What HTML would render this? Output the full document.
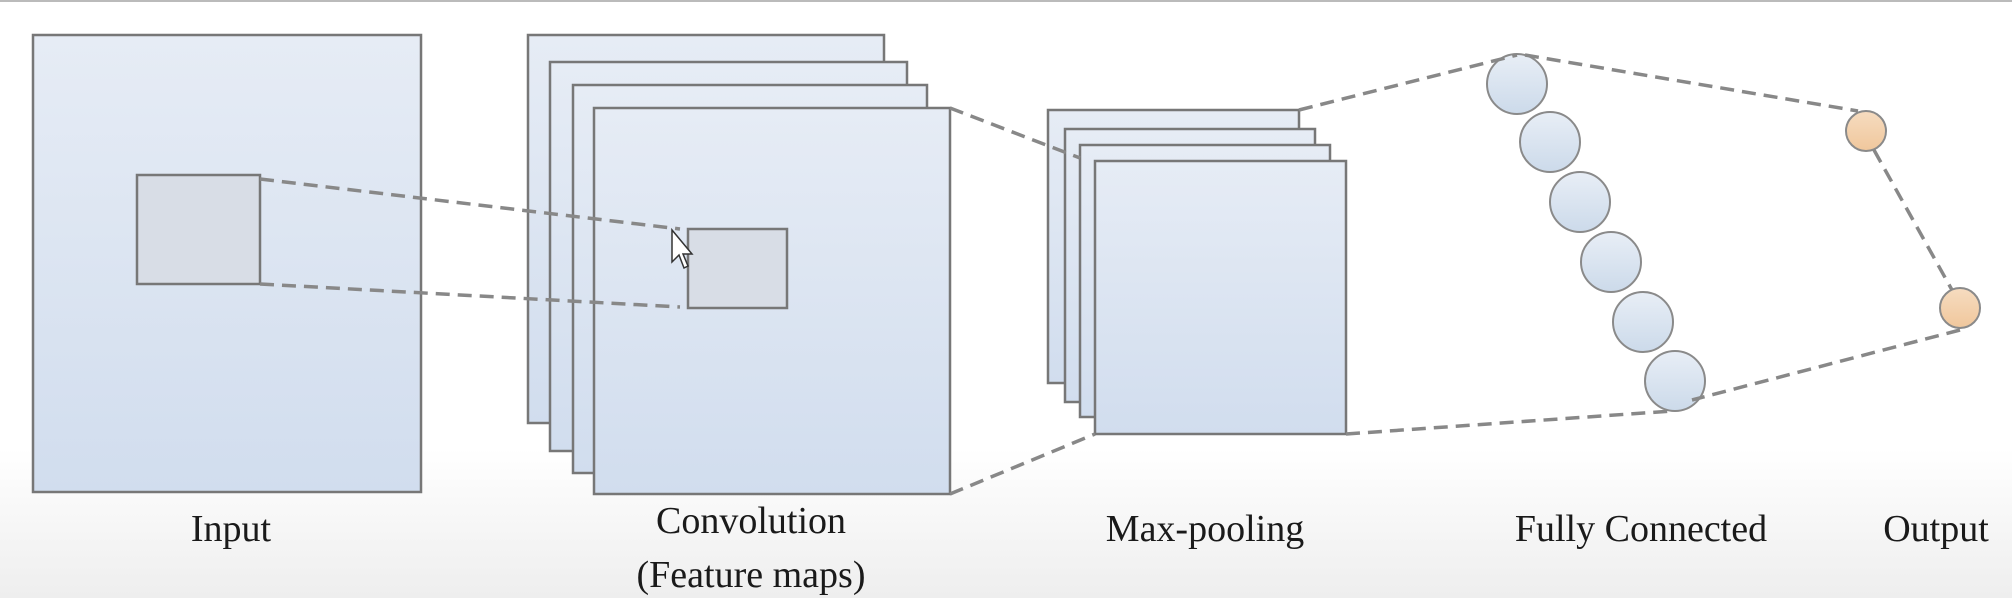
<!DOCTYPE html>
<html><head><style>
html,body{margin:0;padding:0;background:#fff;}
body{width:2012px;height:598px;overflow:hidden;background:linear-gradient(#ffffff 0%,#ffffff 75%,#eeeeee 100%);}
svg{position:absolute;left:0;top:0;}
text{font-family:"Liberation Serif",serif;font-size:38px;fill:#1a1a1a;}
</style></head><body>
<svg width="2012" height="598" viewBox="0 0 2012 598">
<defs>
<linearGradient id="g" x1="0" y1="0" x2="0" y2="1"><stop offset="0" stop-color="#e6ecf5"/><stop offset="1" stop-color="#d1ddee"/></linearGradient>
<linearGradient id="c" x1="0" y1="0" x2="0" y2="1"><stop offset="0" stop-color="#e8eef6"/><stop offset="1" stop-color="#ccdaea"/></linearGradient>
<linearGradient id="o" x1="0" y1="0" x2="0" y2="1"><stop offset="0" stop-color="#f6dcc0"/><stop offset="1" stop-color="#f0c79c"/></linearGradient>
</defs>
<line x1="0" y1="1" x2="2012" y2="1" stroke="#bbb" stroke-width="2"/>
<g stroke="#777" stroke-width="2.5">
<rect x="33" y="35" width="388" height="457" fill="url(#g)"/>
<rect x="137" y="175" width="123" height="109" fill="#d8dde6"/>
<rect x="528" y="35" width="356" height="388" fill="url(#g)"/>
<rect x="550" y="62" width="357" height="389" fill="url(#g)"/>
<rect x="573" y="85" width="354" height="388" fill="url(#g)"/>
<rect x="594" y="108" width="356" height="386" fill="url(#g)"/>
<rect x="688" y="229" width="99" height="79" fill="#d8dde6"/>
<rect x="1048" y="110" width="251" height="273" fill="url(#g)"/>
<rect x="1065" y="129" width="250" height="273" fill="url(#g)"/>
<rect x="1080" y="145" width="250" height="272" fill="url(#g)"/>
<rect x="1095" y="161" width="251" height="273" fill="url(#g)"/>
</g>
<g stroke="#8a8a8a" stroke-width="2" fill="url(#c)">
<circle cx="1517" cy="84" r="30"/>
<circle cx="1550" cy="142" r="30"/>
<circle cx="1580" cy="202" r="30"/>
<circle cx="1611" cy="262" r="30"/>
<circle cx="1643" cy="322" r="30"/>
<circle cx="1675" cy="381" r="30"/>
<circle cx="1866" cy="131" r="20" fill="url(#o)"/>
<circle cx="1960" cy="308" r="20" fill="url(#o)"/>
</g>
<g stroke="#888" stroke-width="3.5" stroke-dasharray="14,8" fill="none">
<line x1="260" y1="179" x2="680" y2="229"/>
<line x1="260" y1="284" x2="680" y2="307"/>
<line x1="950" y1="108" x2="1080" y2="158"/>
<line x1="950" y1="494" x2="1095" y2="434"/>
<line x1="1299" y1="110" x2="1517" y2="55"/>
<line x1="1525" y1="55" x2="1858" y2="111"/>
<line x1="1874" y1="150" x2="1952" y2="290"/>
<line x1="1960" y1="330" x2="1692" y2="400"/>
<line x1="1346" y1="434" x2="1672" y2="411"/>
</g>
<path d="M672 230 L672 262 L679 255 L684 268 L688 266 L683 254 L692 254 Z" fill="#fff" stroke="#333" stroke-width="1.5"/>
<text x="231" y="541" text-anchor="middle">Input</text>
<text x="751" y="533" text-anchor="middle">Convolution</text>
<text x="751" y="587" text-anchor="middle">(Feature maps)</text>
<text x="1205" y="541" text-anchor="middle">Max-pooling</text>
<text x="1641" y="541" text-anchor="middle">Fully Connected</text>
<text x="1936" y="541" text-anchor="middle">Output</text>
</svg>
</body></html>
